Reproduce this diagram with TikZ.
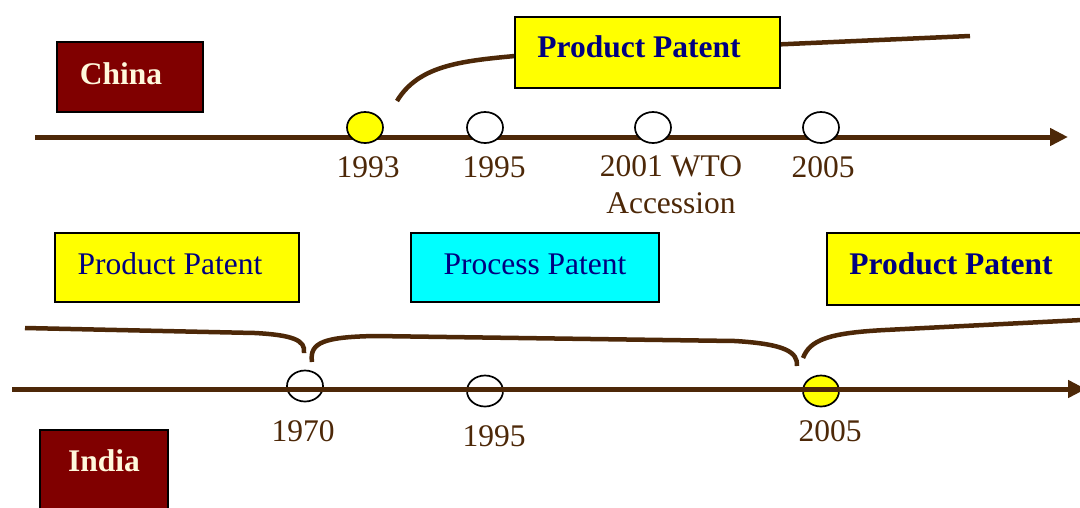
\documentclass[tikz,border=0pt]{standalone}
\usepackage{fontspec}
\setmainfont{Liberation Serif}
\usetikzlibrary{shapes.geometric,arrows.meta}
\definecolor{brn}{RGB}{77,40,8}
\definecolor{navytx}{RGB}{0,0,128}
\definecolor{maroonbx}{RGB}{128,0,0}
\definecolor{creamtx}{RGB}{255,248,220}
\definecolor{yel}{RGB}{255,255,0}
\definecolor{cyn}{RGB}{0,255,255}
\begin{document}
\begin{tikzpicture}[x=1pt,y=-1pt,
  bigtxt/.style={font=\fontsize{31.5}{36}\selectfont},
  boldtxt/.style={font=\fontsize{31.5}{36}\selectfont\bfseries},
  boxed/.style={draw=black, line width=2pt, inner sep=0pt},
  country/.style={boxed, fill=maroonbx},
  ctxt/.style={boldtxt, text=creamtx, inner sep=0pt},
  ptxt/.style={text=navytx, inner sep=0pt},
  yr/.style={bigtxt, text=brn, inner sep=0pt},
  dot/.style={ellipse, draw=black, line width=1.7pt, minimum width=36pt, minimum height=31pt, inner sep=0pt},
  tl/.style={draw=brn, line width=5pt, -{Triangle[length=18pt,width=17pt]}},
  brace/.style={draw=brn, line width=4.5pt}
]
\useasboundingbox (0,0) rectangle (1080,507);
\clip (0,0) rectangle (1080,507);
\fill[white] (0,0) rectangle (1080,507);

% ---------- China ----------
\node[country, minimum width=146pt, minimum height=70pt] (chinabox) at (130,77) {};
\node[ctxt] (chinatxt) at (121,74) {China};

\coordinate (cbs) at (397,101);
\coordinate (cbe) at (970,36);
\draw[brace] (cbs) .. controls (418,66) and (460,61) .. (515,56) -- (cbe);

\node[boxed, fill=yel, minimum width=265pt, minimum height=71pt] (cppbox) at (647.5,52.5) {};
\node[ptxt, boldtxt] (cpptxt) at (639,47) {Product Patent};

\coordinate (cls) at (35,137);
\coordinate (cle) at (1068,137);
\draw[tl] (cls) -- (cle);

\node[dot, fill=yel] (c93) at (365,127.5) {};
\node[dot, fill=white] (c95) at (485,127.5) {};
\node[dot, fill=white] (c01) at (653,127.5) {};
\node[dot, fill=white] (c05) at (821,127.5) {};

\node[yr] (l93) at (368,167) {1993};
\node[yr] (l95) at (494,167) {1995};
\node[yr] (l01) at (671,166) {2001 WTO};
\node[yr] (l01b) at (671,203) {Accession};
\node[yr] (l05) at (823,167) {2005};

% ---------- middle boxes ----------
\node[boxed, fill=yel, minimum width=244pt, minimum height=69pt] (ipp1) at (177,267.5) {};
\node[ptxt, bigtxt] (ipp1t) at (170,264) {Product Patent};
\node[boxed, fill=cyn, minimum width=248pt, minimum height=69pt] (iproc) at (535,267.5) {};
\node[ptxt, bigtxt] (iproct) at (535,264) {Process Patent};
\node[boxed, fill=yel, minimum width=268pt, minimum height=72pt] (ipp2) at (961,269) {};
\node[ptxt, boldtxt] (ipp2t) at (951,264) {Product Patent};

% ---------- India braces ----------
\coordinate (b1s) at (25,328);
\coordinate (b1e) at (304,353);
\draw[brace] (b1s) -- (255,333) .. controls (292,335) and (306,340) .. (b1e);
\coordinate (b2s) at (312,362);
\coordinate (b2e) at (797,366);
\draw[brace] (b2s) .. controls (309,342) and (325,337) .. (375,336) -- (735,341) .. controls (785,344) and (798,352) .. (b2e);
\coordinate (b3s) at (803,358);
\coordinate (b3e) at (1082,320);
\draw[brace] (b3s) .. controls (810,340) and (828,333) .. (885,330) -- (b3e);

% ---------- India timeline ----------
\node[dot] (i70) at (305,386) {};
\node[dot] (i95) at (485,391) {};
\node[dot, fill=yel] (i05) at (821,391) {};

\coordinate (ils) at (12,389);
\coordinate (ile) at (1086,389);
\draw[tl] (ils) -- (ile);

\node[yr] (li70) at (303,431) {1970};
\node[yr] (li95) at (494,436) {1995};
\node[yr] (li05) at (830,431) {2005};

\node[country, minimum width=128pt, minimum height=85pt] (indiabox) at (104,472.5) {};
\node[ctxt] (indiatxt) at (104,461) {India};
\end{tikzpicture}
\end{document}
